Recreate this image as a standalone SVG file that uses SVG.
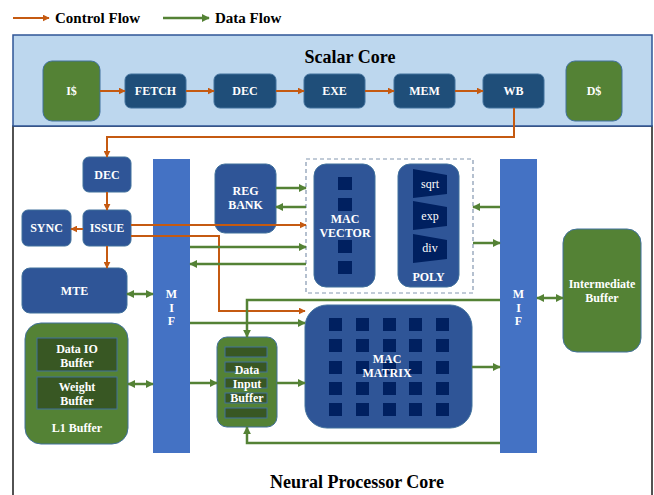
<svg xmlns="http://www.w3.org/2000/svg" width="654" height="495" viewBox="0 0 654 495">
<defs>
<style>
.t{font-family:"Liberation Serif","Times New Roman",serif;font-weight:bold;}
.lbl{font-family:"Liberation Serif","Times New Roman",serif;font-weight:bold;font-size:12px;fill:#fff;text-anchor:middle;}
.reg{font-family:"Liberation Serif","Times New Roman",serif;font-size:12px;fill:#fff;text-anchor:middle;}
.sc{fill:#1F4E79;stroke:#41719C;stroke-width:1;}
.nb{fill:#2F5597;stroke:#41719C;stroke-width:1;}
.gr{fill:#548235;stroke:#41719C;stroke-width:1;}
.dk{fill:#385723;stroke:#41719C;stroke-width:1;}
.mif{fill:#4472C4;}
.sq{fill:#002060;}
.ctl{stroke:#C55A11;stroke-width:2;fill:none;}
.dat{stroke:#548235;stroke-width:2.5;fill:none;}
</style>
<marker id="ao" viewBox="0 0 10 10" refX="9" refY="5" markerWidth="7" markerHeight="7" markerUnits="userSpaceOnUse" orient="auto"><path d="M0,0 L10,5 L0,10 z" fill="#C55A11"/></marker>
<marker id="ag" viewBox="0 0 10 10" refX="9" refY="5" markerWidth="8" markerHeight="8" markerUnits="userSpaceOnUse" orient="auto-start-reverse"><path d="M0,0 L10,5 L0,10 z" fill="#548235"/></marker>
</defs>
<rect width="654" height="495" fill="#fff"/>
<g id="legend">
<line x1="13" y1="18" x2="49" y2="18" class="ctl" marker-end="url(#ao)"/>
<text x="55" y="23" class="t" font-size="15">Control Flow</text>
<line x1="163" y1="18" x2="209" y2="18" class="dat" marker-end="url(#ag)"/>
<text x="215" y="23" class="t" font-size="15">Data Flow</text>
</g>
<g id="neural-core">
<rect x="13" y="126" width="639" height="400" fill="#fff" stroke="#1a1a1a" stroke-width="1.5"/>
<text x="357" y="488" class="t" font-size="18" text-anchor="middle">Neural Processor Core</text>
</g>
<g id="scalar-core">
<rect x="13" y="35" width="639" height="91" fill="#BDD7EE" stroke="#2F5597" stroke-width="1.5"/>
<text x="350" y="63" class="t" font-size="18" text-anchor="middle">Scalar Core</text>
</g>
<g id="icache"><rect x="43" y="61" width="57" height="60" rx="9" class="gr"/><text x="71.5" y="95" class="lbl">I$</text></g>
<g id="fetch"><rect x="125" y="74" width="61" height="34" rx="6" class="sc"/><text x="155.5" y="95" class="lbl">FETCH</text></g>
<g id="sdec"><rect x="214" y="74" width="62" height="34" rx="6" class="sc"/><text x="245" y="95" class="lbl">DEC</text></g>
<g id="exe"><rect x="304" y="74" width="61" height="34" rx="6" class="sc"/><text x="334.5" y="95" class="lbl">EXE</text></g>
<g id="mem"><rect x="394" y="74" width="61" height="34" rx="6" class="sc"/><text x="424.5" y="95" class="lbl">MEM</text></g>
<g id="wb"><rect x="483" y="74" width="61" height="34" rx="6" class="sc"/><text x="513.5" y="95" class="lbl">WB</text></g>
<g id="dcache"><rect x="566" y="61" width="56" height="60" rx="9" class="gr"/><text x="594" y="95" class="lbl">D$</text></g>

<g id="ndec"><rect x="83" y="157" width="48" height="35" rx="6" class="nb"/><text x="107" y="179" class="lbl">DEC</text></g>
<g id="issue"><rect x="83" y="210" width="48" height="36" rx="6" class="nb"/><text x="107" y="232" class="lbl">ISSUE</text></g>
<g id="sync"><rect x="22" y="210" width="49" height="36" rx="6" class="nb"/><text x="46.5" y="232" class="lbl">SYNC</text></g>
<g id="mte"><rect x="22" y="268" width="105" height="45" rx="8" class="nb"/><text x="74.5" y="295" class="lbl">MTE</text></g>
<g id="mif-left"><rect x="153" y="159" width="37" height="294" class="mif"/><text x="171.5" y="298" class="lbl" font-size="13">M</text><text x="171.5" y="311.5" class="lbl" font-size="13">I</text><text x="171.5" y="325" class="lbl" font-size="13">F</text></g>
<g id="regbank"><rect x="215" y="164" width="61" height="69" rx="10" class="nb"/><text x="245.5" y="195" class="lbl">REG</text><text x="245.5" y="209" class="lbl">BANK</text></g>
<g id="vector-unit"><rect x="306" y="159" width="167" height="134" fill="none" stroke="#8497B0" stroke-width="1.2" stroke-dasharray="4,3"/></g>
<g id="macvector"><rect x="314" y="164" width="61" height="123" rx="12" class="nb"/>
<rect x="338" y="177" width="14" height="13" class="sq"/><rect x="338" y="198" width="14" height="13" class="sq"/><rect x="338" y="240" width="14" height="13" class="sq"/><rect x="338" y="261" width="14" height="13" class="sq"/>
<text x="345" y="223" class="lbl">MAC</text><text x="345" y="237" class="lbl">VECTOR</text></g>
<g id="poly"><rect x="398" y="164" width="61" height="123" rx="12" class="nb"/>
<polygon points="413,169 447,175 447,194 413,198" class="sq"/><text x="430" y="188" class="reg">sqrt</text>
<polygon points="413,201 447,207 447,226 413,230" class="sq"/><text x="430" y="220" class="reg">exp</text>
<polygon points="413,234 447,240 447,259 413,263" class="sq"/><text x="430" y="252" class="reg">div</text>
<text x="428.5" y="281" class="lbl">POLY</text></g>
<g id="mif-right"><rect x="500" y="159" width="37" height="294" class="mif"/><text x="518.5" y="298" class="lbl" font-size="13">M</text><text x="518.5" y="311.5" class="lbl" font-size="13">I</text><text x="518.5" y="325" class="lbl" font-size="13">F</text></g>
<g id="intermediate"><rect x="563" y="229" width="78" height="123" rx="14" class="gr"/><text x="602" y="288" class="lbl">Intermediate</text><text x="602" y="302" class="lbl">Buffer</text></g>
<g id="macmatrix"><rect x="305" y="305" width="167" height="123" rx="22" class="nb"/>
<g class="sq">
<rect x="329" y="318" width="13" height="13"/><rect x="356" y="318" width="13" height="13"/><rect x="383" y="318" width="13" height="13"/><rect x="409" y="318" width="13" height="13"/><rect x="436" y="318" width="13" height="13"/>
<rect x="329" y="339" width="13" height="13"/><rect x="356" y="339" width="13" height="13"/><rect x="383" y="339" width="13" height="13"/><rect x="409" y="339" width="13" height="13"/><rect x="436" y="339" width="13" height="13"/>
<rect x="329" y="361" width="13" height="13"/><rect x="356" y="361" width="13" height="13"/><rect x="383" y="361" width="13" height="13"/><rect x="409" y="361" width="13" height="13"/><rect x="436" y="361" width="13" height="13"/>
<rect x="329" y="382" width="13" height="13"/><rect x="356" y="382" width="13" height="13"/><rect x="383" y="382" width="13" height="13"/><rect x="409" y="382" width="13" height="13"/><rect x="436" y="382" width="13" height="13"/>
<rect x="329" y="403" width="13" height="13"/><rect x="356" y="403" width="13" height="13"/><rect x="383" y="403" width="13" height="13"/><rect x="409" y="403" width="13" height="13"/><rect x="436" y="403" width="13" height="13"/>
</g>
<text x="387" y="363" class="lbl">MAC</text><text x="387" y="377" class="lbl">MATRIX</text></g>
<g id="datainput"><rect x="217" y="337" width="60" height="90" rx="10" class="gr"/>
<rect x="225" y="347" width="42" height="10" class="dk"/><rect x="225" y="362" width="42" height="10" class="dk"/><rect x="225" y="378" width="42" height="10" class="dk"/><rect x="225" y="393" width="42" height="10" class="dk"/><rect x="225" y="408" width="42" height="10" class="dk"/>
<text x="247" y="374" class="lbl">Data</text><text x="247" y="388" class="lbl">Input</text><text x="247" y="402" class="lbl">Buffer</text></g>
<g id="l1buffer"><rect x="25" y="323" width="103" height="121" rx="16" class="gr"/>
<rect x="37" y="338" width="80" height="33" class="dk"/><rect x="37" y="377" width="80" height="32" class="dk"/>
<text x="77" y="353" class="lbl">Data IO</text><text x="77" y="367" class="lbl">Buffer</text>
<text x="77" y="391" class="lbl">Weight</text><text x="77" y="405" class="lbl">Buffer</text>
<text x="77" y="432" class="lbl">L1 Buffer</text></g>

<g id="connectors">
<g class="ctl" marker-end="url(#ao)">
<path d="M100,91 H125"/><path d="M186,91 H214"/><path d="M276,91 H304"/><path d="M365,91 H394"/><path d="M455,91 H483"/>
<path d="M514,108 V137 H107 V157"/>
<path d="M107,192 V210"/>
<path d="M83,229 H71"/>
<path d="M107,246 V268"/>
<path d="M131,225 H306"/>
<path d="M131,236 H219 V311 H305"/>
</g>
<g class="dat" marker-end="url(#ag)">
<path d="M276,188 H306"/>
<path d="M306,207 H276"/>
<path d="M190,247 H306"/>
<path d="M306,264 H190"/>
<path d="M127,294 H153" marker-start="url(#ag)"/>
<path d="M500,207 H473"/>
<path d="M473,243 H500"/>
<path d="M537,298 H563" marker-start="url(#ag)"/>
<path d="M500,300 H247 V337"/>
<path d="M190,323 H305"/>
<path d="M128,384 H153" marker-start="url(#ag)"/>
<path d="M190,383 H217"/>
<path d="M277,383 H305"/>
<path d="M472,367 H500"/>
<path d="M500,443 H247 V427"/>
</g>
</g>
</svg>
